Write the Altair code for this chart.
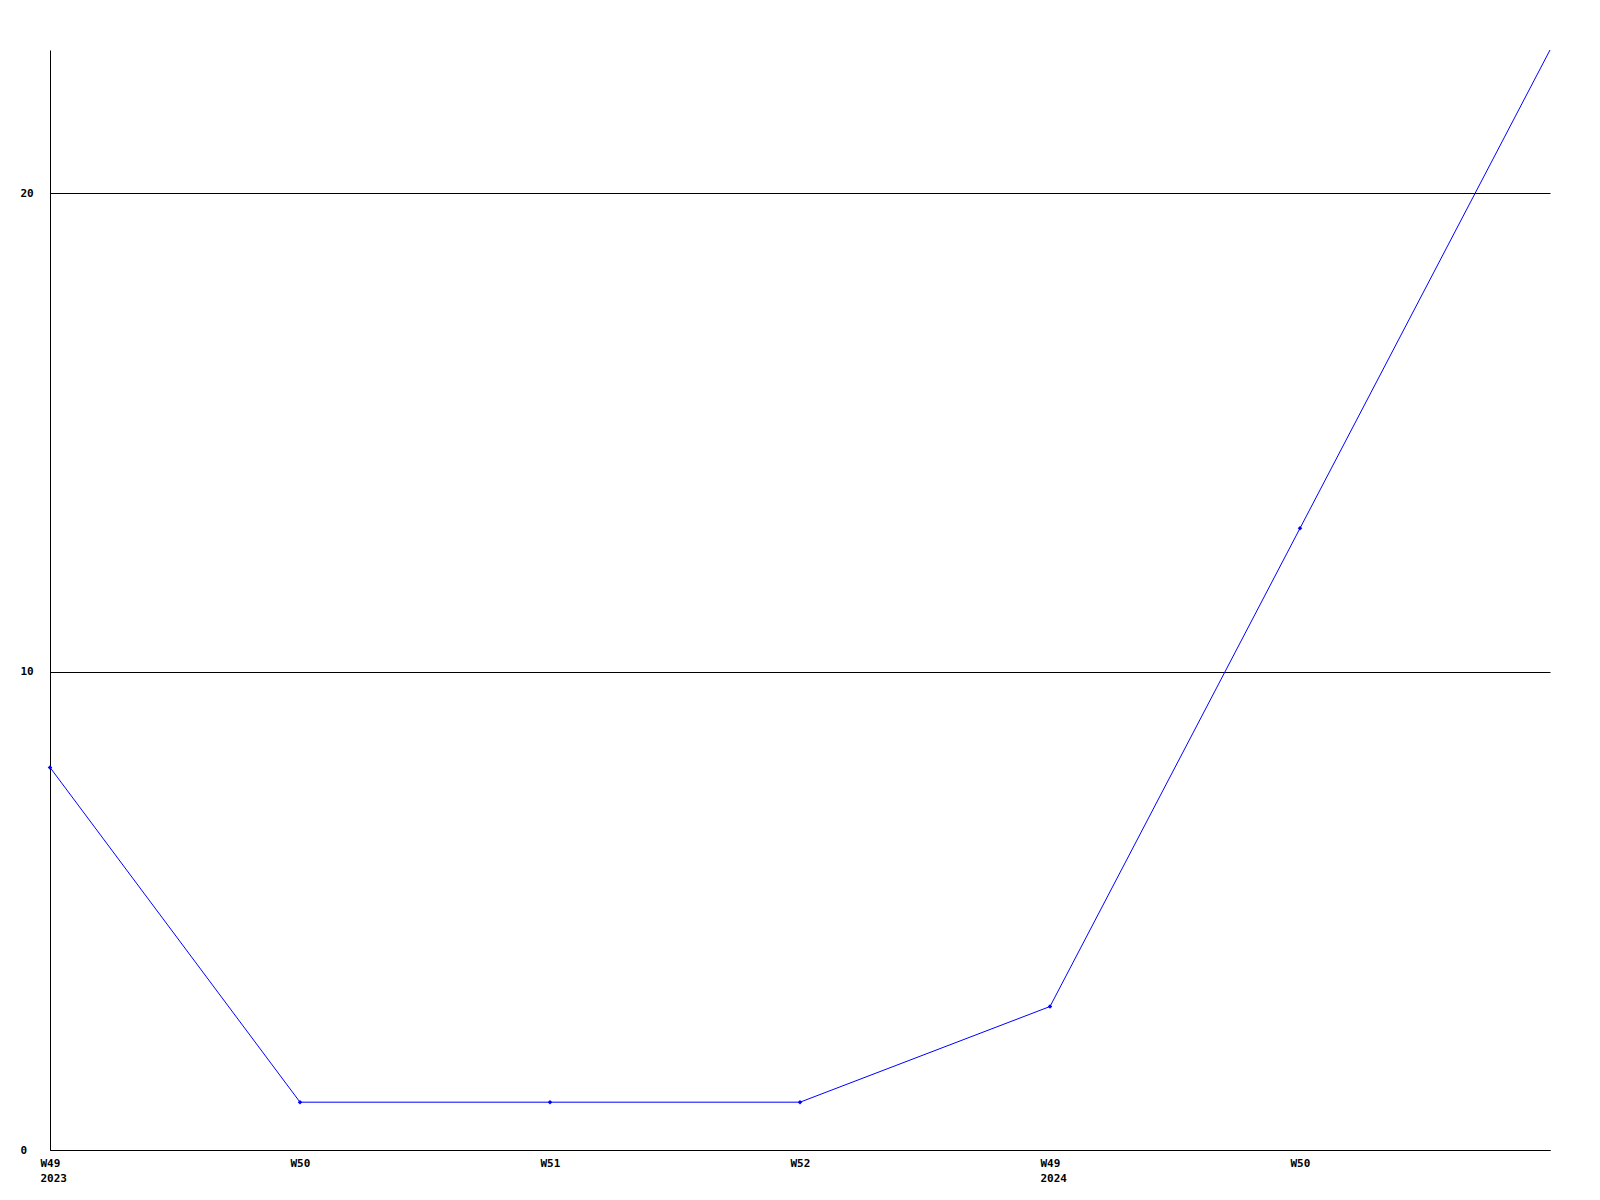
import altair as alt
import pandas as pd
import json

week_labels = ["W49", "W50", "W51", "W52", "W49", "W50", ""]
year_labels = ["2023", "", "", "", "2024", "", ""]
values = [8, 1, 1, 1, 3, 13, 23]

df = pd.DataFrame({"idx": list(range(len(values))), "value": values})

label_arr = []
for w, y in zip(week_labels, year_labels):
    label_arr.append([w, y] if y else [w])
label_expr = json.dumps(label_arr).replace('"', "'") + "[datum.value]"

FONT = "DejaVu Sans Mono"

x = alt.X(
    "idx:Q",
    scale=alt.Scale(domain=[0, len(values) - 1], nice=False, zero=False),
    axis=alt.Axis(
        title=None,
        values=list(range(6)),
        labelExpr=label_expr,
        ticks=False,
        grid=False,
        domainColor="black",
        labelAlign="left",
        labelBaseline="top",
        labelOffset=-10,
        labelPadding=7,
        labelLineHeight=15,
        labelFont=FONT,
        labelFontSize=11,
        labelFontWeight="bold",
        labelColor="black",
        labelOverlap=False,
        labelFlush=False,
    ),
)
y = alt.Y(
    "value:Q",
    scale=alt.Scale(domain=[0, 23], nice=False),
    axis=alt.Axis(
        title=None,
        values=[0, 10, 20],
        ticks=False,
        grid=True,
        gridColor="black",
        gridOpacity=1,
        gridWidth=1,
        domainColor="black",
        labelAlign="left",
        labelBaseline="middle",
        labelPadding=30,
        labelFont=FONT,
        labelFontSize=11,
        labelFontWeight="bold",
        labelColor="black",
        labelFlush=False,
    ),
)

line = alt.Chart(df).mark_line(color="#0000ff", strokeWidth=1).encode(x=x, y=y)
pts = (
    alt.Chart(df)
    .transform_filter(alt.datum.idx < len(values) - 1)
    .mark_point(shape="diamond", filled=True, color="#0000ff", size=20, opacity=1)
    .encode(x=x, y=y)
)

chart = (
    alt.layer(line, pts, view=alt.ViewBackground(stroke=None, strokeWidth=0))
    .properties(
        width=1500,
        height=1100,
        autosize=alt.AutoSizeParams(type="none"),
        padding={"left": 42, "top": 42, "right": 42, "bottom": 42},
    )
    .configure_view(stroke=None, strokeWidth=0)
    .configure(background="white")
)

chart.save("out.html", embed_options={"renderer": "svg", "actions": False})
